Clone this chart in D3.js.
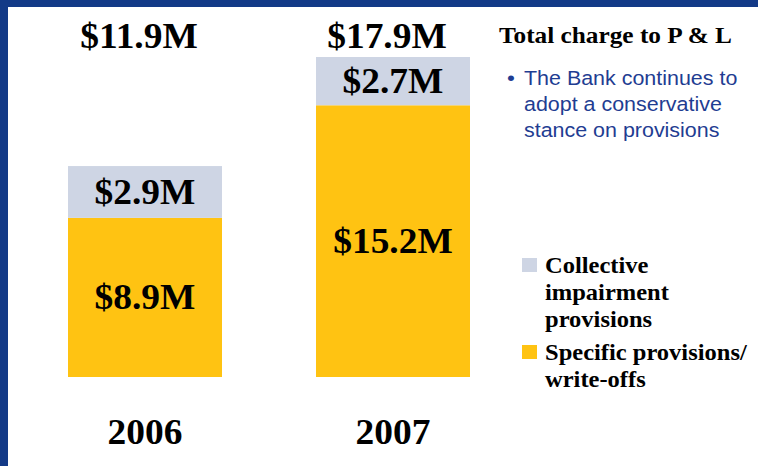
<!DOCTYPE html>
<html>
<head>
<meta charset="utf-8">
<script src="https://cdn.jsdelivr.net/npm/d3@7"></script>
<style>
  html, body { margin: 0; padding: 0; background: #fff; }
  svg { display: block; }
</style>
</head>
<body>
<div id="chart"></div>
<script>
// Data
const years = ["2006", "2007"];
const specific = [8.9, 15.2];
const collective = [2.9, 2.7];
const totals = [11.9, 17.9];
const seriesNames = ["Collective impairment provisions", "Specific provisions/ write-offs"];
const legendLines = [["Collective", "impairment", "provisions"], ["Specific provisions/", "write-offs"]];
const noteLines = ["The Bank continues to", "adopt a conservative", "stance on provisions"];

const W = 758, H = 466;
const colGray = "#ced5e4";
const colYellow = "#ffc312";
const colBorder = "#133a87";
const serif = "'Liberation Serif', 'Times New Roman', serif";
const sans = "'Liberation Sans', Arial, sans-serif";
const fmt = v => `$${d3.format(".1f")(v)}M`;

const svg = d3.select("#chart").append("svg")
  .attr("width", W).attr("height", H);

// Slide frame
svg.append("rect").attr("width", W).attr("height", H).attr("fill", colBorder);
svg.append("rect").attr("x", 8).attr("y", 7).attr("width", W - 8).attr("height", H - 7).attr("fill", "#fff");

const data = years.map((yr, i) => ({ year: yr, specific: specific[i], collective: collective[i], total: totals[i] }));
const stack = d3.stack().keys(["specific", "collective"]);
const series = stack(data);

const x = d3.scaleBand()
  .domain(years)
  .range([68, 470])
  .paddingInner(0.379)
  .paddingOuter(0);

const y = d3.scaleLinear()
  .domain([0, 17.9])
  .range([377, 57]);

const color = d3.scaleOrdinal().domain(["specific", "collective"]).range([colYellow, colGray]);

// Stretched text helper (slide text is slightly wide)
const sx = 1.07;
function addText(g, tx, ty, str, opts) {
  return g.append("text")
    .attr("transform", `translate(${tx},${ty}) scale(${opts.sx || sx},1)`)
    .attr("text-anchor", opts.anchor || "start")
    .attr("font-family", opts.family || serif)
    .attr("font-weight", opts.weight || "bold")
    .attr("font-size", opts.size)
    .attr("fill", opts.fill || "#000")
    .text(str);
}

// Bars
const layers = svg.selectAll("g.layer")
  .data(series)
  .join("g")
  .attr("class", "layer")
  .attr("fill", d => color(d.key));

layers.selectAll("rect")
  .data(d => d)
  .join("rect")
  .attr("x", d => x(d.data.year))
  .attr("width", x.bandwidth())
  .attr("y", d => y(d[1]))
  .attr("height", d => y(d[0]) - y(d[1]));

// Segment labels
series.forEach(s => {
  s.forEach(d => {
    const cx = x(d.data.year) + x.bandwidth() / 2;
    const cy = (y(d[0]) + y(d[1])) / 2 + 12;
    addText(svg, cx, cy, fmt(d.data[s.key]), { anchor: "middle", size: 35 });
  });
});

// Totals (sit a little left of bar centre on the slide)
data.forEach(d => {
  addText(svg, x(d.year) + x.bandwidth() / 2 - 6, 48, fmt(d.total), { anchor: "middle", size: 35 });
});

// Year labels
data.forEach(d => {
  addText(svg, x(d.year) + x.bandwidth() / 2, 444, d.year, { anchor: "middle", size: 35 });
});

// Title and note
addText(svg, 499, 43, "Total charge to P & L", { size: 23, sx: 1.1 });
addText(svg, 507, 85, "\u2022", { size: 21, family: sans, weight: "normal", fill: "#1f3d92" });
noteLines.forEach((t, i) => {
  addText(svg, 524, 85 + i * 26, t, { size: 19.5, family: sans, weight: "normal", fill: "#1f3d92", sx: 1.1 });
});

// Legend
const legendTop = [258, 345];
const legendCol = [colGray, colYellow];
legendLines.forEach((lines, i) => {
  svg.append("rect")
    .attr("x", 522).attr("y", legendTop[i])
    .attr("width", 15).attr("height", 14)
    .attr("fill", legendCol[i])
    .append("title").text(seriesNames[i]);
  lines.forEach((t, j) => {
    addText(svg, 545, legendTop[i] + 15 + j * 27, t, { size: 22.5, sx: 1.09 });
  });
});
</script>
</body>
</html>
